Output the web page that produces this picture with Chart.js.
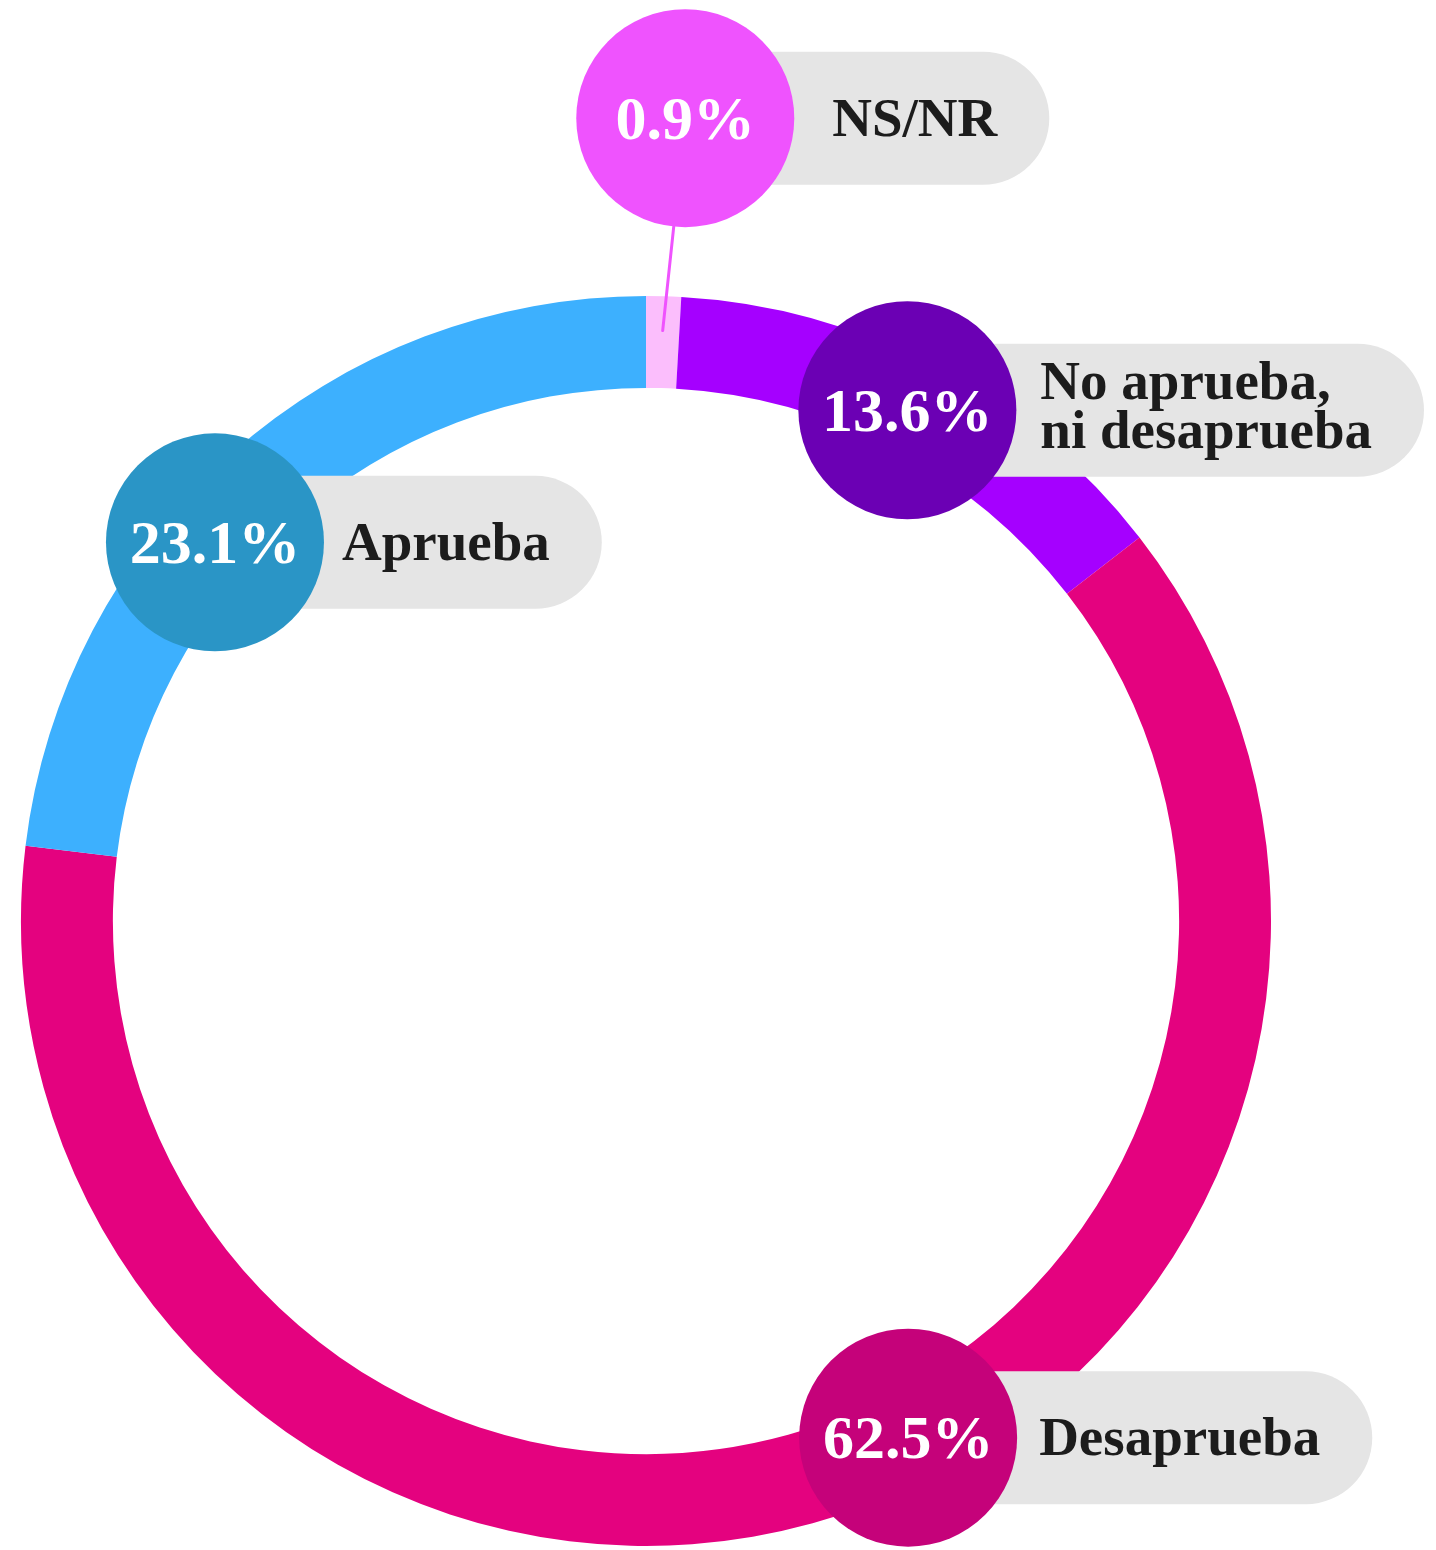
<!DOCTYPE html>
<html>
<head>
<meta charset="utf-8">
<script src="https://cdn.jsdelivr.net/npm/chart.js@4.4.0/dist/chart.umd.min.js"></script>
<style>
  html, body { margin: 0; padding: 0; background: #fff; overflow: hidden; }
  canvas { display: block; }
</style>
</head>
<body>
<canvas id="approvalChart" width="1436" height="1550"></canvas>
<script>
// Data, clockwise from 12 o'clock
const categories = ["NS/NR", "No aprueba, ni desaprueba", "Desaprueba", "Aprueba"];
const labelLines = [["NS/NR"], ["No aprueba,", "ni desaprueba"], ["Desaprueba"], ["Aprueba"]];
const percentages = [0.9, 13.6, 62.5, 23.1];

const sliceColors = ["#fbbefc", "#a500ff", "#e4027f", "#3db0fe"];
const bubbleColors = ["#ef53fe", "#6b00b4", "#c5027a", "#2a95c6"];

// callout placement: angle (deg, clockwise from top), distance (fraction of outer radius)
const calloutAngle = [2.8, 27.1, 153.1, 311.3];
const calloutDist = [1.286, 0.918, 0.927, 0.918];
const textGap = [38, 24, 22, 18];

const calloutPlugin = {
  id: "callouts",
  afterDatasetsDraw(chart) {
    const ctx = chart.ctx;
    const arcs = chart.getDatasetMeta(0).data;
    const cx0 = arcs[0].x, cy0 = arcs[0].y, R = arcs[0].outerRadius;
    const bubbleR = 109, pillH = 133, lineH = 49;
    const pctSize = 62, lblSize = 55;

    ctx.save();
    arcs.forEach((arc, i) => {
      const a = calloutAngle[i] * Math.PI / 180;
      const x = cx0 + Math.sin(a) * R * calloutDist[i];
      const y = cy0 - Math.cos(a) * R * calloutDist[i];

      // leader line for bubbles sitting outside the ring
      if (calloutDist[i] > 1) {
        const mid = (arc.startAngle + arc.endAngle) / 2;
        const tx = cx0 + Math.cos(mid) * R * 0.945;
        const ty = cy0 + Math.sin(mid) * R * 0.945;
        const d = Math.hypot(tx - x, ty - y);
        ctx.beginPath();
        ctx.moveTo(x + (tx - x) / d * bubbleR, y + (ty - y) / d * bubbleR);
        ctx.lineTo(tx, ty);
        ctx.strokeStyle = bubbleColors[i];
        ctx.lineWidth = 3;
        ctx.lineCap = "round";
        ctx.stroke();
      }

      // grey pill behind label
      ctx.font = "bold " + lblSize + "px 'Liberation Serif'";
      const textX = x + bubbleR + textGap[i];
      const tw = Math.max(...labelLines[i].map(s => ctx.measureText(s).width));
      const right = textX + tw + 52;
      ctx.beginPath();
      ctx.roundRect(x, y - pillH / 2, right - x, pillH, pillH / 2);
      ctx.fillStyle = "#e5e5e5";
      ctx.fill();

      // label text
      ctx.fillStyle = "#1c1c1c";
      ctx.textAlign = "left";
      ctx.textBaseline = "alphabetic";
      const n = labelLines[i].length;
      const off = n > 1 ? -4 : 0;
      labelLines[i].forEach((s, k) => {
        ctx.fillText(s, textX, y + lblSize * 0.32 + (k - (n - 1) / 2) * lineH + off);
      });

      // bubble
      ctx.beginPath();
      ctx.arc(x, y, bubbleR, 0, Math.PI * 2);
      ctx.fillStyle = bubbleColors[i];
      ctx.fill();

      ctx.font = "bold " + pctSize + "px 'Liberation Serif'";
      ctx.fillStyle = "#ffffff";
      ctx.textAlign = "center";
      ctx.fillText(percentages[i].toFixed(1) + "%", x, y + pctSize * 0.335);
    });
    ctx.restore();
  }
};

const ctxApproval = document.getElementById("approvalChart").getContext("2d");
new Chart(ctxApproval, {
  type: "doughnut",
  data: {
    labels: categories,
    datasets: [
      {
        data: percentages,
        backgroundColor: sliceColors,
        borderWidth: 0,
        offset: 0,
        hoverOffset: 0,
      },
    ],
  },
  options: {
    responsive: false,
    animation: false,
    cutout: "85.3%",
    layout: {
      padding: { left: 21, right: 165, top: 296, bottom: 4 },
    },
    plugins: {
      legend: { display: false },
      tooltip: { enabled: false },
    },
  },
  plugins: [calloutPlugin],
});
</script>
</body>
</html>
